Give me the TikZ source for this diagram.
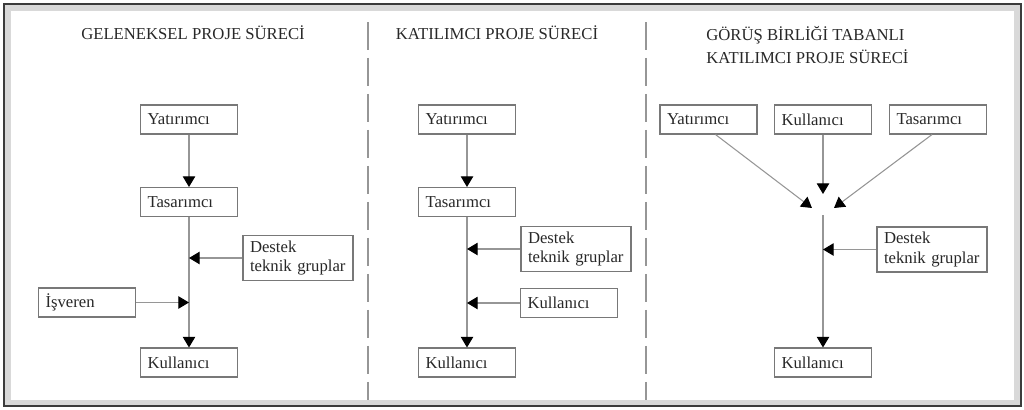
\documentclass[tikz,border=0pt]{standalone}
\usepackage{fontspec}
\setmainfont{Liberation Serif}
\usetikzlibrary{arrows.meta}
\usetikzlibrary{calc}
\usetikzlibrary{positioning}

\definecolor{framegray}{RGB}{60,60,60}
\definecolor{linegray}{RGB}{150,150,150}
\definecolor{boxgray}{RGB}{120,120,120}
\definecolor{textgray}{RGB}{40,40,40}

\tikzset{
  box/.style={draw=boxgray,line width=0.6pt,text=textgray,
    font=\fontsize{9.5}{11.3}\selectfont,align=left,
    text width=1.66cm,inner xsep=0.14cm,inner ysep=0pt,minimum height=0.58cm},
  widebox/.style={box,text width=1.92cm,minimum height=0.9cm},
  title/.style={text=textgray,font=\fontsize{9.5}{13.6}\selectfont,inner sep=0pt},
  conn/.style={draw=linegray,line width=0.6pt,-{Triangle[width=7pt,length=6pt,black]}},
  sep/.style={draw=linegray,line width=0.8pt,dash pattern=on 0.56cm off 0.16cm}
}

\begin{document}
\begin{tikzpicture}[x=0.02cm,y=-0.02cm]
% page and frame
\useasboundingbox (0,0) rectangle (1024,409);
\fill[white] (0,0) rectangle (1024,409);
\draw[black!15,line width=3pt] (8,8) rectangle (1017,403);
\draw[framegray,line width=1.4pt] (4,4) rectangle (1021,406);

% separators
\coordinate (s1a) at (368,22);
\coordinate (s1b) at (368,400);
\coordinate (s2a) at (646,22);
\coordinate (s2b) at (646,400);
\draw[sep] (s1a) -- (s1b);
\draw[sep] (s2a) -- (s2b);

%% Panel 1: geleneksel
\node[title] (title1) at (193,33) {GELENEKSEL PROJE SÜRECİ};
\node[box] (yat1) at (189,119.5) {Yatırımcı};
\node[box] (tas1) at (189,202) {Tasarımcı};
\node[box] (kul1) at (189,362.5) {Kullanıcı};
\node[widebox] (des1) at (298,258) {Destek\\teknik gruplar};
\node[box] (isv1) at (87,302.5) {İşveren};
\coordinate (d1) at (des1.west -| tas1.south);
\coordinate (i1) at (isv1.east -| tas1.south);
\draw[conn] (yat1) -- (tas1);
\draw[conn] (tas1) -- (kul1);
\draw[conn] (des1.west) -- (d1);
\draw[conn] (isv1.east) -- (i1);

%% Panel 2: katilimci
\node[title] (title2) at (497,33) {KATILIMCI PROJE SÜRECİ};
\node[box] (yat2) at (467,119.5) {Yatırımcı};
\node[box] (tas2) at (467,202) {Tasarımcı};
\node[box] (kul2) at (467,362.5) {Kullanıcı};
\node[widebox] (des2) at (576,249) {Destek\\teknik gruplar};
\node[box] (kls2) at (569,303) {Kullanıcı};
\coordinate (d2) at (des2.west -| tas2.south);
\coordinate (k2) at (kls2.west -| tas2.south);
\draw[conn] (yat2) -- (tas2);
\draw[conn] (tas2) -- (kul2);
\draw[conn] (des2.west) -- (d2);
\draw[conn] (kls2.west) -- (k2);

%% Panel 3: gorus birligi tabanli
\node[title,anchor=west,align=left] (title3) at (706,45) {GÖRÜŞ BİRLİĞİ TABANLI\\KATILIMCI PROJE SÜRECİ};
\node[box] (yat3) at (708.5,119.5) {Yatırımcı};
\node[box] (klt3) at (823,119.5) {Kullanıcı};
\node[box] (tas3) at (938,119.5) {Tasarımcı};
\node[widebox] (des3) at (932,249.5) {Destek\\teknik gruplar};
\node[box] (kul3) at (823,362.5) {Kullanıcı};
\coordinate (c1) at (812,208);
\coordinate (c2) at (823,194);
\coordinate (c3) at (834,208);
\coordinate (j3) at (823,215);
\coordinate (d3) at (des3.west -| j3);
\draw[conn] ($(yat3.south)+(7,0)$) -- (c1);
\draw[conn] (klt3) -- (c2);
\draw[conn] ($(tas3.south)+(-6,0)$) -- (c3);
\draw[conn] (j3) -- (kul3);
\draw[conn] (des3.west) -- (d3);
\end{tikzpicture}
\end{document}
